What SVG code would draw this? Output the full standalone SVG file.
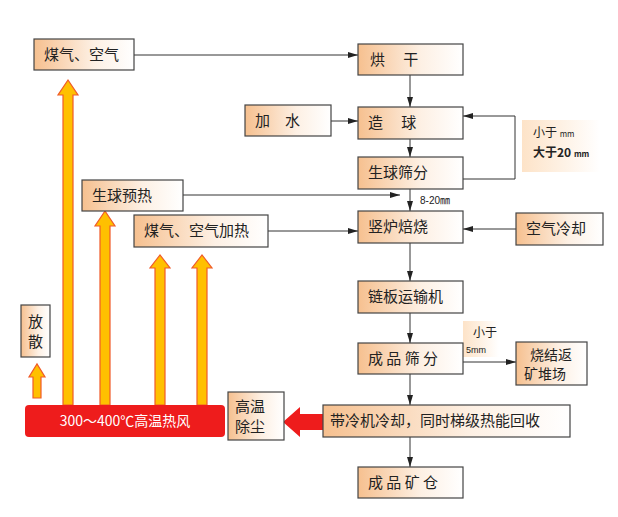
<svg xmlns="http://www.w3.org/2000/svg" width="618" height="517" viewBox="0 0 618 517">
<defs>
<linearGradient id="g" x1="0" y1="0" x2="1" y2="0"><stop offset="0" stop-color="#f6c08f"/><stop offset="0.6" stop-color="#fdf0e4"/><stop offset="1" stop-color="#ffffff"/></linearGradient>
<linearGradient id="g2" x1="0" y1="0" x2="1" y2="0"><stop offset="0" stop-color="#fde3c8"/><stop offset="1" stop-color="#ffffff"/></linearGradient>
<marker id="a" markerWidth="10" markerHeight="8" refX="10" refY="4" orient="auto" markerUnits="userSpaceOnUse"><path d="M0,1 L10,4 L0,7 Z" fill="#222"/></marker>
</defs>
<style>
.b{fill:url(#g);stroke:#444;stroke-width:1.2}
.t{font-family:"Noto Sans CJK SC","Liberation Serif",serif;font-size:15px;fill:#222}
.t14{font-size:14px}
.s{font-family:"Liberation Sans","Noto Sans CJK SC",sans-serif;font-size:10px;fill:#222}
.l{font-family:"Noto Sans CJK SC",sans-serif;font-size:12px;fill:#222}
.c{stroke:#333;stroke-width:1;fill:none;marker-end:url(#a)}
.o{fill:#ffc000;stroke:#f05a28;stroke-width:1.2}
</style>
<rect width="618" height="517" fill="#fff"/>
<g id="connectors">
<line class="c" x1="134" y1="55" x2="358" y2="55"/>
<line class="c" x1="410" y1="75" x2="410" y2="107"/>
<line class="c" x1="331" y1="121" x2="358" y2="121"/>
<line class="c" x1="410" y1="139" x2="410" y2="157"/>
<polyline class="c" points="463,179 515,179 515,116 463,116"/>
<line class="c" x1="183" y1="195" x2="400" y2="195"/>
<line class="c" x1="410" y1="189" x2="410" y2="211"/>
<line class="c" x1="268" y1="231" x2="358" y2="231"/>
<line class="c" x1="516" y1="229" x2="463" y2="229"/>
<line class="c" x1="410" y1="243" x2="410" y2="281"/>
<line class="c" x1="410" y1="313" x2="410" y2="343"/>
<line class="c" x1="463" y1="362" x2="516" y2="362"/>
<line class="c" x1="410" y1="374" x2="410" y2="405"/>
<line class="c" x1="410" y1="437" x2="410" y2="467"/>
<path d="M323,414 L300,414 L300,407 L283,422 L300,437 L300,430 L323,430 Z" fill="#ee1c1c"/>
<path class="o" d="M63,405 L63,95 L58,95 L68,80 L78,95 L73,95 L73,405 Z"/>
<path class="o" d="M100,405 L100,226 L95,226 L105,211 L115,226 L110,226 L110,405 Z"/>
<path class="o" d="M155,405 L155,268 L150,268 L160,255 L170,268 L165,268 L165,405 Z"/>
<path class="o" d="M197,405 L197,268 L192,268 L202,255 L212,268 L207,268 L207,405 Z"/>
<path class="o" d="M33,398 L33,377 L29,377 L37,364 L45,377 L41,377 L41,398 Z"/>
</g>
<g id="n1"><rect class="b" x="34" y="39" width="100" height="31"/><text class="t" x="44" y="60">煤气、空气</text></g>
<g id="n2"><rect class="b" x="358" y="44" width="105" height="31"/><text class="t" x="370" y="65">烘　 干</text></g>
<g id="n3"><rect class="b" x="245" y="105" width="86" height="31"/><text class="t" x="255" y="126">加　水</text></g>
<g id="n4"><rect class="b" x="358" y="107" width="105" height="32"/><text class="t" x="368" y="128">造　 球</text></g>
<g id="n5"><rect class="b" x="358" y="157" width="105" height="32"/><text class="t" x="368" y="178">生球筛分</text></g>
<g id="l1"><rect x="522" y="120" width="78" height="52" fill="url(#g2)"/><text class="l" x="533" y="137">小于 <tspan style="font-size:8px">mm</tspan></text><text class="l" x="533" y="157" style="font-weight:bold">大于20 <tspan style="font-size:8px">mm</tspan></text></g>
<g id="n6"><rect class="b" x="82" y="180" width="101" height="31"/><text class="t" x="92" y="201">生球预热</text></g>
<text class="s" x="420" y="204">8-20㎜</text>
<g id="n7"><rect class="b" x="134" y="215" width="134" height="32"/><text class="t" x="144" y="236">煤气、空气加热</text></g>
<g id="n8"><rect class="b" x="358" y="211" width="105" height="32"/><text class="t" x="368" y="232">竖炉焙烧</text></g>
<g id="n9"><rect class="b" x="516" y="213" width="87" height="32"/><text class="t" x="526" y="234">空气冷却</text></g>
<g id="n10"><rect class="b" x="358" y="281" width="105" height="32"/><text class="t" x="368" y="302">链板运输机</text></g>
<g id="l2"><rect x="463" y="321" width="36" height="36" fill="url(#g2)"/><text class="l" x="473" y="337">小于</text><text class="s" x="466" y="353" style="font-size:9px">5mm</text></g>
<g id="n11"><rect class="b" x="358" y="343" width="105" height="31"/><text class="t" x="368" y="364">成 品 筛 分</text></g>
<g id="n12"><rect class="b" x="516" y="342" width="71" height="43"/><text class="t t14" x="530" y="360">烧结返</text><text class="t t14" x="524" y="379">矿堆场</text></g>
<g id="n13"><rect class="b" x="21" y="305" width="29" height="52"/><text class="t" x="28" y="327">放</text><text class="t" x="28" y="347">散</text></g>
<g id="n14"><rect x="25" y="405" width="200" height="32" rx="4" fill="#ee1c1c"/><text x="125" y="426" text-anchor="middle" font-family="Noto Sans CJK SC,serif" font-size="14" fill="#fff">300～400℃高温热风</text></g>
<g id="n15"><rect class="b" x="228" y="392" width="56" height="48"/><text class="t" x="235" y="412">高温</text><text class="t" x="235" y="432">除尘</text></g>
<g id="n16"><rect class="b" x="323" y="405" width="247" height="32"/><text class="t" x="330" y="426">带冷机冷却，同时梯级热能回收</text></g>
<g id="n17"><rect class="b" x="358" y="467" width="105" height="31"/><text class="t" x="368" y="488">成 品 矿 仓</text></g>
</svg>
